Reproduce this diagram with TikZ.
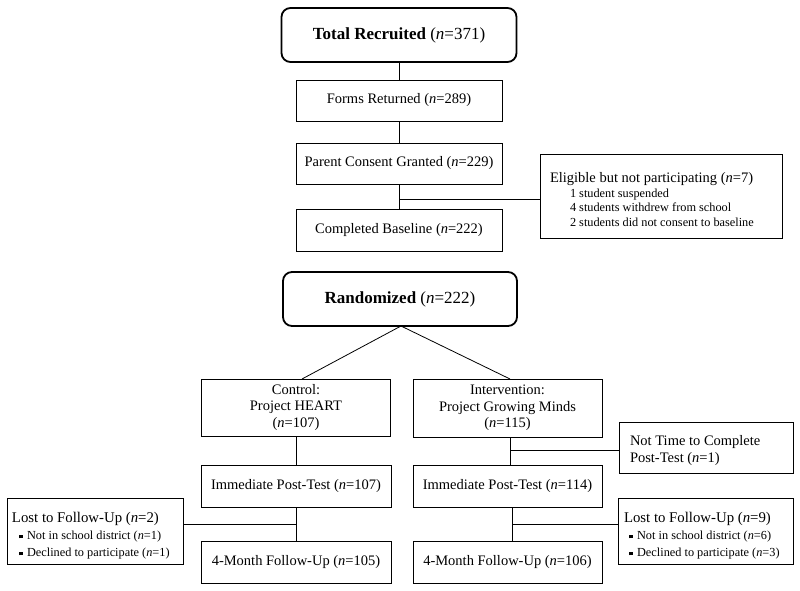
\documentclass[tikz,border=0pt]{standalone}
\usepackage{fontspec}
\setmainfont{Liberation Serif}
\begin{document}
\begin{tikzpicture}[x=1bp,y=-1bp,
  box/.style={draw, line width=0.8bp, minimum width=206bp, minimum height=41bp, inner sep=2bp,
    font=\fontsize{14.5bp}{17bp}\selectfont, align=center},
  bigbox/.style={draw, line width=1.8bp, rounded corners=9bp, minimum width=234bp, minimum height=54bp,
    font=\fontsize{14.5bp}{17bp}\selectfont, align=center},
  sidebox/.style={draw, line width=0.8bp, align=flush left, font=\fontsize{14.5bp}{17bp}\selectfont, inner ysep=2bp},
  conn/.style={line width=0.8bp}]
\useasboundingbox (0,0) rectangle (800,591);
\newcommand{\nn}{\textit{n}}
\newcommand{\sq}{\raisebox{1.2bp}{\rule{3.6bp}{3.6bp}}}
\newcommand{\hdfont}{\fontsize{14.5bp}{17bp}\selectfont}
\newcommand{\lhfont}{\fontsize{14.8bp}{17bp}\selectfont}

\node[bigbox, minimum width=235bp] (tot) at (399,35) {\fontsize{17bp}{20bp}\selectfont\textbf{Total Recruited} (\nn=371)};
\node[box] (forms) at (399,100.5) {Forms Returned (\nn=289)};
\node[box] (consent) at (399,163.5) {Parent Consent Granted (\nn=229)};
\node[box, minimum height=42bp] (base) at (399,230) {Completed Baseline (\nn=222)};
\node[bigbox] (rand) at (400,299) {\fontsize{17bp}{20bp}\selectfont\textbf{Randomized} (\nn=222)};

\node[sidebox, minimum width=242bp, minimum height=84bp, text width=222bp, inner xsep=10bp,
      font=\fontsize{12.3bp}{14.5bp}\selectfont] (elig) at (661,196)
  {{\hdfont\rule{0pt}{17bp}Eligible but not participating (\nn=7)}\\
   \hspace*{20bp}1 student suspended\\
   \hspace*{20bp}4 students withdrew from school\\
   \hspace*{20bp}2 students did not consent to baseline};

\node[box, minimum width=189bp, minimum height=57bp, font=\fontsize{14.5bp}{16.3bp}\selectfont] (ctrl) at (296,407.5) {Control:\\Project HEART\\(\nn=107)};
\node[box, minimum width=189bp, minimum height=58bp, font=\fontsize{14.5bp}{16.3bp}\selectfont] (intv) at (507.5,408) {Intervention:\\Project Growing Minds\\(\nn=115)};

\node[box, minimum width=190bp, minimum height=42bp] (cimm) at (296,486) {Immediate Post-Test (\nn=107)};
\node[box, minimum width=189bp, minimum height=42bp] (iimm) at (507.5,486) {Immediate Post-Test (\nn=114)};
\node[box, minimum width=190bp, minimum height=42bp] (cfu) at (296,562) {4-Month Follow-Up (\nn=105)};
\node[box, minimum width=189bp, minimum height=42bp] (ifu) at (507.5,562) {4-Month Follow-Up (\nn=106)};

\node[sidebox, minimum width=172bp, minimum height=51bp, text width=152bp, inner xsep=11bp] (notime) at (706,447.5)
  {\rule{0pt}{17bp}Not Time to Complete\\Post-Test (\nn=1)};

\node[sidebox, minimum width=176bp, minimum height=66bp, text width=166bp, inner xsep=5bp,
      font=\fontsize{12.3bp}{17bp}\selectfont] (lostL) at (95,531)
  {{\lhfont\rule{0pt}{20bp}Lost to Follow-Up (\nn=2)}\\
   \hspace*{7bp}\sq\hspace*{4.5bp}Not in school district (\nn=1)\\
   \hspace*{7bp}\sq\hspace*{4.5bp}Declined to participate (\nn=1)};
\node[sidebox, minimum width=173bp, minimum height=66bp, text width=163bp, inner xsep=6bp,
      font=\fontsize{12.3bp}{17bp}\selectfont] (lostR) at (705.5,531)
  {{\lhfont\rule{0pt}{20bp}Lost to Follow-Up (\nn=9)}\\
   \hspace*{5bp}\sq\hspace*{4.5bp}Not in school district (\nn=6)\\
   \hspace*{5bp}\sq\hspace*{4.5bp}Declined to participate (\nn=3)};

% connectors
\draw[conn] (tot.south) -- (forms.north);
\draw[conn] (forms.south) -- (consent.north);
\draw[conn] (consent.south) -- (base.north);
\draw[conn] (base.south) -- (rand.south |- base.south);
\coordinate (j1) at (399,199);
\draw[conn] (elig.west |- j1) -- (j1);
\coordinate (rs) at (401,326);
\draw[conn] (rs) -- (302,379);
\draw[conn] (rs) -- (510,379);
\draw[conn] (ctrl.south) -- (cimm.north);
\draw[conn] (cimm.south) -- (cfu.north);
\coordinate (j2) at (296,524);
\draw[conn] (lostL.east |- j2) -- (j2);
\coordinate (ia) at (510,437);
\coordinate (ib) at (510,465);
\draw[conn] (ia) -- (ib);
\coordinate (j3) at (510,450);
\draw[conn] (notime.west |- j3) -- (j3);
\coordinate (ic) at (512,507);
\coordinate (id) at (512,541);
\draw[conn] (ic) -- (id);
\coordinate (j4) at (512,524);
\draw[conn] (lostR.west |- j4) -- (j4);
\end{tikzpicture}
\end{document}
